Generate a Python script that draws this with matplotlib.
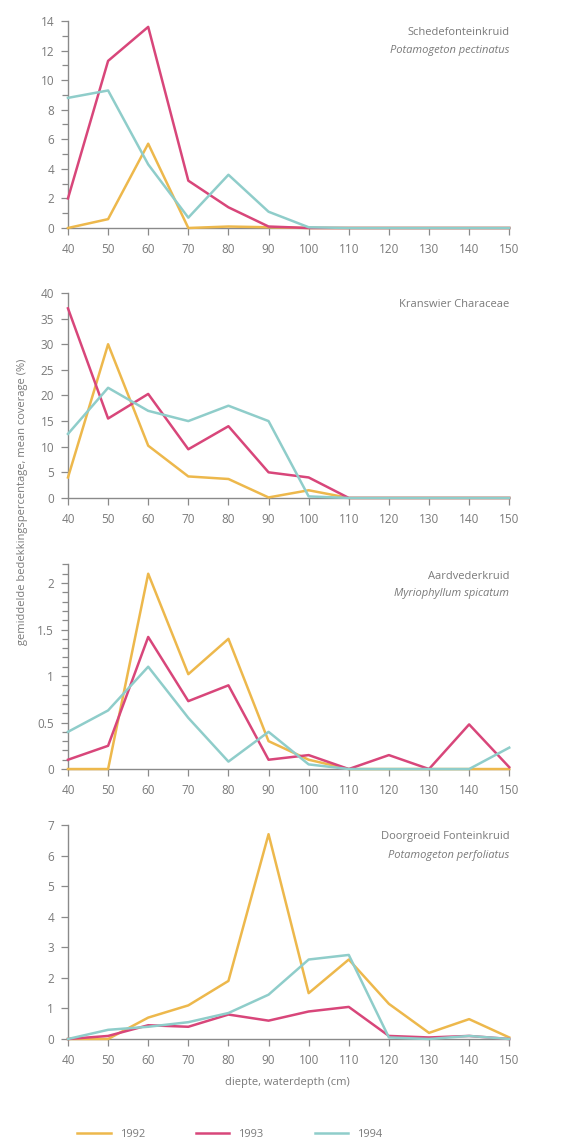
import matplotlib
matplotlib.use("Agg")
import matplotlib.pyplot as plt
from matplotlib.ticker import MultipleLocator
from matplotlib.lines import Line2D

plt.rcParams["font.family"] = ["Open Sans", "DejaVu Sans"]

depth = [40, 50, 60, 70, 80, 90, 100, 110, 120, 130, 140, 150]
years = ["1992", "1993", "1994"]
colors = ["#EDB84C", "#D8467A", "#8FCDCA"]

# Potamogeton pectinatus
pect_1992 = [0, 0.6, 5.7, 0, 0.1, 0.05, 0, 0, 0, 0, 0, 0]
pect_1993 = [2.0, 11.3, 13.6, 3.2, 1.4, 0.1, 0, 0, 0, 0, 0, 0]
pect_1994 = [8.8, 9.3, 4.3, 0.7, 3.6, 1.1, 0.05, 0, 0, 0, 0, 0]

# Characeae
char_1992 = [4.0, 30.0, 10.2, 4.2, 3.7, 0.1, 1.5, 0, 0, 0, 0, 0]
char_1993 = [37.0, 15.5, 20.3, 9.5, 14.0, 5.0, 4.0, 0, 0, 0, 0, 0]
char_1994 = [12.5, 21.5, 17.0, 15.0, 18.0, 15.0, 0.3, 0, 0, 0, 0, 0]

# Myriophyllum spicatum
myr_1992 = [0, 0, 2.1, 1.02, 1.4, 0.3, 0.1, 0, 0, 0, 0, 0]
myr_1993 = [0.1, 0.25, 1.42, 0.73, 0.9, 0.1, 0.15, 0, 0.15, 0, 0.48, 0.02]
myr_1994 = [0.4, 0.63, 1.1, 0.55, 0.08, 0.4, 0.05, 0, 0, 0, 0, 0.23]

# Potamogeton perfoliatus
perf_1992 = [0, 0, 0.7, 1.1, 1.9, 6.7, 1.5, 2.6, 1.15, 0.2, 0.65, 0.05]
perf_1993 = [0, 0.1, 0.45, 0.4, 0.8, 0.6, 0.9, 1.05, 0.1, 0.05, 0.1, 0]
perf_1994 = [0, 0.3, 0.4, 0.55, 0.85, 1.45, 2.6, 2.75, 0.05, 0, 0.1, 0]

panels = [
    ([pect_1992, pect_1993, pect_1994], (0, 14), 2, 1, None,
     ["Schedefonteinkruid", "Potamogeton pectinatus"], ["normal", "italic"]),
    ([char_1992, char_1993, char_1994], (0, 40), 5, None, None,
     ["Kranswier Characeae"], ["normal"]),
    ([myr_1992, myr_1993, myr_1994], (0, 2.2), 0.5, 0.1, ["0", "0.5", "1", "1.5", "2"],
     ["Aardvederkruid", "Myriophyllum spicatum"], ["normal", "italic"]),
    ([perf_1992, perf_1993, perf_1994], (0, 7), 1, None, None,
     ["Doorgroeid Fonteinkruid", "Potamogeton perfoliatus"], ["normal", "italic"]),
]

# axes boxes in figure fractions: left, bottom, width, height
boxes = [
    (0.116, 0.800, 0.753, 0.1816),
    (0.116, 0.5632, 0.753, 0.1798),
    (0.116, 0.3254, 0.753, 0.1795),
    (0.116, 0.0886, 0.753, 0.1877),
]

grey = "#8a8a8a"
text_grey = "#7a7a7a"

fig = plt.figure(figsize=(5.86, 11.4), dpi=100)

for box, (series, ylim, major, minor, ylabels, title, styles) in zip(boxes, panels):
    ax = fig.add_axes(box)
    for vals, c in zip(series, colors):
        ax.plot(depth, vals, color=c, linewidth=1.8, clip_on=False, zorder=3)
    ax.set_xlim(40, 150)
    ax.set_ylim(*ylim)
    ax.set_xticks(depth)
    ax.yaxis.set_major_locator(MultipleLocator(major))
    if minor:
        ax.yaxis.set_minor_locator(MultipleLocator(minor))
    if ylabels:
        ax.set_yticks([0, 0.5, 1, 1.5, 2])
        ax.set_yticklabels(ylabels)
    for side in ("top", "right"):
        ax.spines[side].set_visible(False)
    for side in ("left", "bottom"):
        ax.spines[side].set_color(grey)
        ax.spines[side].set_linewidth(1.0)
    ax.tick_params(axis="both", which="major", colors=grey, labelcolor=text_grey,
                   labelsize=8.5, length=5, width=0.9)
    ax.tick_params(axis="x", which="major", pad=6)
    ax.tick_params(axis="y", which="major", pad=5)
    ax.tick_params(axis="y", which="minor", colors=grey, length=4, width=0.9)

    y0 = 0.97
    for line, st in zip(title, styles):
        ax.text(1.0, y0, line, transform=ax.transAxes, ha="right", va="top",
                fontsize=8, color=text_grey, style=st)
        y0 -= 0.085

fig.text(0.038, 0.56, "gemiddelde bedekkingspercentage, mean coverage (%)",
         rotation=90, ha="center", va="center", fontsize=8, color=text_grey)
fig.text(0.49, 0.05, "diepte, waterdepth (cm)", ha="center", va="center",
         fontsize=8, color=text_grey)

handles = [Line2D([0], [0], color=c, linewidth=1.8) for c in colors]
fig.legend(handles, years, loc="lower left", bbox_to_anchor=(0.115, -0.009),
           ncol=3, frameon=False, handlelength=3.0, columnspacing=4.6,
           fontsize=8, labelcolor=text_grey)

fig.savefig("out.png", dpi=100)
